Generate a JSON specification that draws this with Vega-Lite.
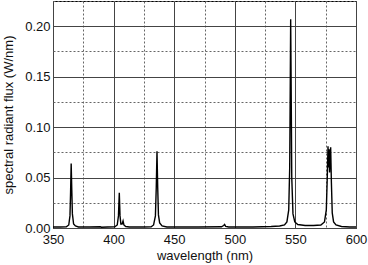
{
  "$schema": "https://vega.github.io/schema/vega-lite/v6.json",
  "autosize": "none",
  "width": 303,
  "height": 227,
  "padding": {"left": 53, "top": 1, "right": 12, "bottom": 37},
  "background": "white",
  "config": {
    "view": {"stroke": "#000", "strokeWidth": 1},
    "font": "Liberation Sans",
    "axis": {"labelFont": "Liberation Sans", "titleFont": "Liberation Sans", "labelFontSize": 13, "titleFontSize": 13, "titleFontWeight": "normal", "labelColor": "#111", "titleColor": "#111", "domain": false, "ticks": false}
  },
  "data": {"values": [
    {"wl": 350, "flux": 0.001},
    {"wl": 356, "flux": 0.001},
    {"wl": 361, "flux": 0.0012},
    {"wl": 363, "flux": 0.003},
    {"wl": 364, "flux": 0.012},
    {"wl": 364.5, "flux": 0.035},
    {"wl": 365, "flux": 0.064},
    {"wl": 365.5, "flux": 0.038},
    {"wl": 366, "flux": 0.014},
    {"wl": 367, "flux": 0.004},
    {"wl": 368.5, "flux": 0.002},
    {"wl": 371, "flux": 0.001},
    {"wl": 380, "flux": 0.001},
    {"wl": 389, "flux": 0.0012},
    {"wl": 390, "flux": 0.0008},
    {"wl": 395, "flux": 0.001},
    {"wl": 401, "flux": 0.0012},
    {"wl": 403, "flux": 0.003},
    {"wl": 404, "flux": 0.012},
    {"wl": 404.7, "flux": 0.035},
    {"wl": 405.3, "flux": 0.012},
    {"wl": 406, "flux": 0.004},
    {"wl": 407, "flux": 0.004},
    {"wl": 407.8, "flux": 0.007},
    {"wl": 408.5, "flux": 0.003},
    {"wl": 410, "flux": 0.0015},
    {"wl": 413, "flux": 0.001},
    {"wl": 425, "flux": 0.001},
    {"wl": 431, "flux": 0.0012},
    {"wl": 433, "flux": 0.003},
    {"wl": 434.5, "flux": 0.012},
    {"wl": 435.2, "flux": 0.04},
    {"wl": 435.8, "flux": 0.076},
    {"wl": 436.4, "flux": 0.04},
    {"wl": 437, "flux": 0.013},
    {"wl": 438, "flux": 0.005},
    {"wl": 440, "flux": 0.002},
    {"wl": 444, "flux": 0.001},
    {"wl": 470, "flux": 0.001},
    {"wl": 489, "flux": 0.0012},
    {"wl": 490.8, "flux": 0.0025},
    {"wl": 491.6, "flux": 0.0035},
    {"wl": 492.5, "flux": 0.0015},
    {"wl": 495, "flux": 0.001},
    {"wl": 515, "flux": 0.001},
    {"wl": 530, "flux": 0.0015},
    {"wl": 537, "flux": 0.002},
    {"wl": 541, "flux": 0.003},
    {"wl": 543, "flux": 0.006},
    {"wl": 544.5, "flux": 0.018},
    {"wl": 545.3, "flux": 0.06},
    {"wl": 545.8, "flux": 0.15},
    {"wl": 546.1, "flux": 0.207},
    {"wl": 546.5, "flux": 0.14},
    {"wl": 547, "flux": 0.05},
    {"wl": 548, "flux": 0.014},
    {"wl": 549.5, "flux": 0.006},
    {"wl": 552, "flux": 0.0035},
    {"wl": 558, "flux": 0.0025},
    {"wl": 565, "flux": 0.0025},
    {"wl": 571, "flux": 0.003},
    {"wl": 574, "flux": 0.006},
    {"wl": 575.5, "flux": 0.018},
    {"wl": 576.3, "flux": 0.05},
    {"wl": 576.9, "flux": 0.081},
    {"wl": 577.4, "flux": 0.06},
    {"wl": 577.8, "flux": 0.078},
    {"wl": 578.2, "flux": 0.055},
    {"wl": 578.6, "flux": 0.07},
    {"wl": 579.1, "flux": 0.08},
    {"wl": 579.7, "flux": 0.045},
    {"wl": 580.4, "flux": 0.015},
    {"wl": 581.5, "flux": 0.006},
    {"wl": 583.5, "flux": 0.003},
    {"wl": 588, "flux": 0.0015},
    {"wl": 595, "flux": 0.001},
    {"wl": 600, "flux": 0.001}
  ]},
  "layer": [
    {
      "mark": {"type": "line", "strokeOpacity": 0, "clip": true},
      "encoding": {
        "x": {"field": "wl", "type": "quantitative", "scale": {"domain": [350, 600], "nice": false, "zero": false},
          "axis": {"orient": "bottom", "values": [375, 425, 475, 525, 575], "labels": false, "title": null, "grid": true, "gridColor": "#666", "gridDash": [2, 2], "gridWidth": 1}},
        "y": {"field": "flux", "type": "quantitative", "scale": {"domain": [0, 0.225], "nice": false},
          "axis": {"orient": "left", "values": [0.025, 0.075, 0.125, 0.175, 0.225], "labels": false, "title": null, "grid": true, "gridColor": "#666", "gridDash": [2, 2], "gridWidth": 1}}
      }
    },
    {
      "mark": {"type": "line", "color": "#000", "strokeWidth": 1.4, "clip": true},
      "encoding": {
        "x": {"field": "wl", "type": "quantitative",
          "axis": {"orient": "bottom", "values": [350, 400, 450, 500, 550, 600], "title": "wavelength (nm)", "labelFlush": false, "labelPadding": 5, "titlePadding": 3, "grid": true, "gridColor": "#444", "gridWidth": 1}},
        "y": {"field": "flux", "type": "quantitative",
          "axis": {"orient": "left", "values": [0, 0.05, 0.1, 0.15, 0.2], "format": ".2f", "title": "spectral radiant flux (W/nm)", "labelPadding": 3, "titlePadding": 9, "grid": true, "gridColor": "#444", "gridWidth": 1}}
      }
    }
  ],
  "resolve": {"axis": {"x": "independent", "y": "independent"}}
}
